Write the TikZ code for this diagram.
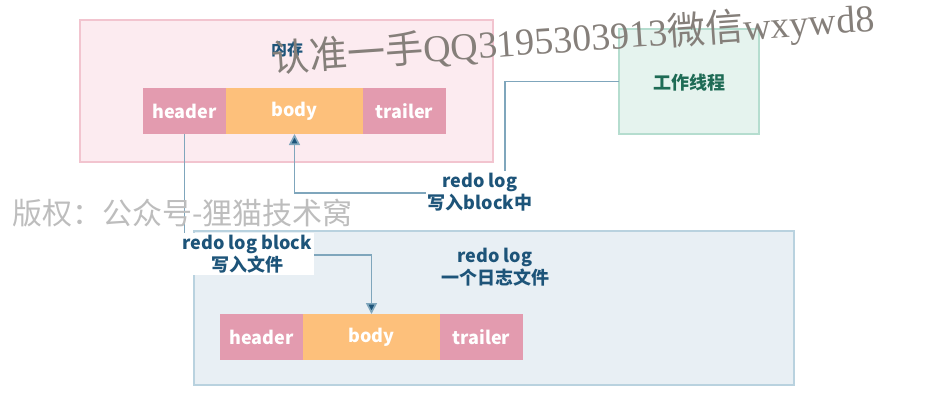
\documentclass[tikz,border=0pt]{standalone}
\usepackage{fontspec}
\setmainfont{Noto Sans CJK SC}
\newfontfamily\wmserif{Liberation Serif}
\newfontfamily\wmcjk{Noto Sans CJK SC}
\usetikzlibrary{arrows.meta,positioning}
\definecolor{memfill}{HTML}{FCEBF0}
\definecolor{memline}{HTML}{F2C4CF}
\definecolor{thrfill}{HTML}{E5F3EE}
\definecolor{thrline}{HTML}{B5DDCF}
\definecolor{thrtext}{HTML}{1E6B55}
\definecolor{filefill}{HTML}{E8EFF4}
\definecolor{fileline}{HTML}{B9D2DF}
\definecolor{headfill}{HTML}{E39BAF}
\definecolor{bodyfill}{HTML}{FDC07B}
\definecolor{labtext}{HTML}{1D5479}
\definecolor{connline}{HTML}{7FA6BC}
\definecolor{wmgray}{HTML}{857F7A}
\definecolor{wmlight}{HTML}{BDBDBD}
\begin{document}
\begin{tikzpicture}[x=0.5pt, y=-0.5pt, font=\fontsize{9}{11}\selectfont\bfseries,
  region/.style={draw, line width=0.8pt, inner sep=0pt, outer sep=0pt},
  part/.style={inner sep=0pt, outer sep=0pt, minimum height=23pt, text=white},
  lab/.style={align=center, text=labtext, fill=white, inner sep=1pt},
  conn/.style={draw=connline, line width=0.8pt},
  tip/.style={-{Triangle[width=5.5pt, length=5.5pt, fill=labtext]}}]
\useasboundingbox (0,0) rectangle (938,414);
% regions
\node[region, fill=memfill, draw=memline, minimum width=206.5pt, minimum height=71pt] (mem) at (286.5,91) {};
\node[text=labtext, font=\fontsize{8}{10}\selectfont\bfseries] (memtitle) at (287,49) {内存};
\node[region, fill=thrfill, draw=thrline, minimum width=70pt, minimum height=52.5pt] (thread) at (689,81.5) {};
\node[text=thrtext] (thrtitle) at (689,83) {工作线程};
\node[region, fill=filefill, draw=fileline, minimum width=300pt, minimum height=77pt] (file) at (494,308) {};
\node[lab, fill=none] (filetitle) at (495,267) {redo log\\一个日志文件};
% block in memory
\node[part, fill=headfill, minimum width=41.5pt] (mhead) at (184.5,111) {header};
\node[part, fill=bodyfill, minimum width=68.5pt, right=0pt of mhead] (mbody) {body};
\node[part, fill=headfill, minimum width=41.5pt, right=0pt of mbody] (mtrail) {trailer};
% block in file
\node[part, fill=headfill, minimum width=41.5pt] (fhead) at (261.5,337) {header};
\node[part, fill=bodyfill, minimum width=68.5pt, right=0pt of fhead] (fbody) {body};
\node[part, fill=headfill, minimum width=41.5pt, right=0pt of fbody] (ftrail) {trailer};
% connectors
\coordinate (turnA) at (505,193);
\coordinate (turnB) at (250,255);
\draw[conn, tip] (thread.west) -| (turnA) -| (mbody.south);
\draw[conn, tip] (mhead.south) |- (turnB) -| (fbody.north);
\node[lab] (labA) at (480,192) {redo log\\写入block中};
\node[lab] (labB) at (247,254) {redo log block\\写入文件};
% watermarks
\node[text=wmgray, font=\fontsize{19}{23}\selectfont, rotate=3.9, inner sep=0pt] (wmA) at (573,40)
  {{\wmcjk 认准一手}{\wmserif QQ3195303913}{\wmcjk 微信}{\wmserif wxywd8}};
\node[text=wmlight, font=\fontsize{15}{18}\selectfont\mdseries, inner sep=0pt, anchor=west] (wmB) at (12,213)
  {版权：公众号-狸猫技术窝};
\end{tikzpicture}
\end{document}
